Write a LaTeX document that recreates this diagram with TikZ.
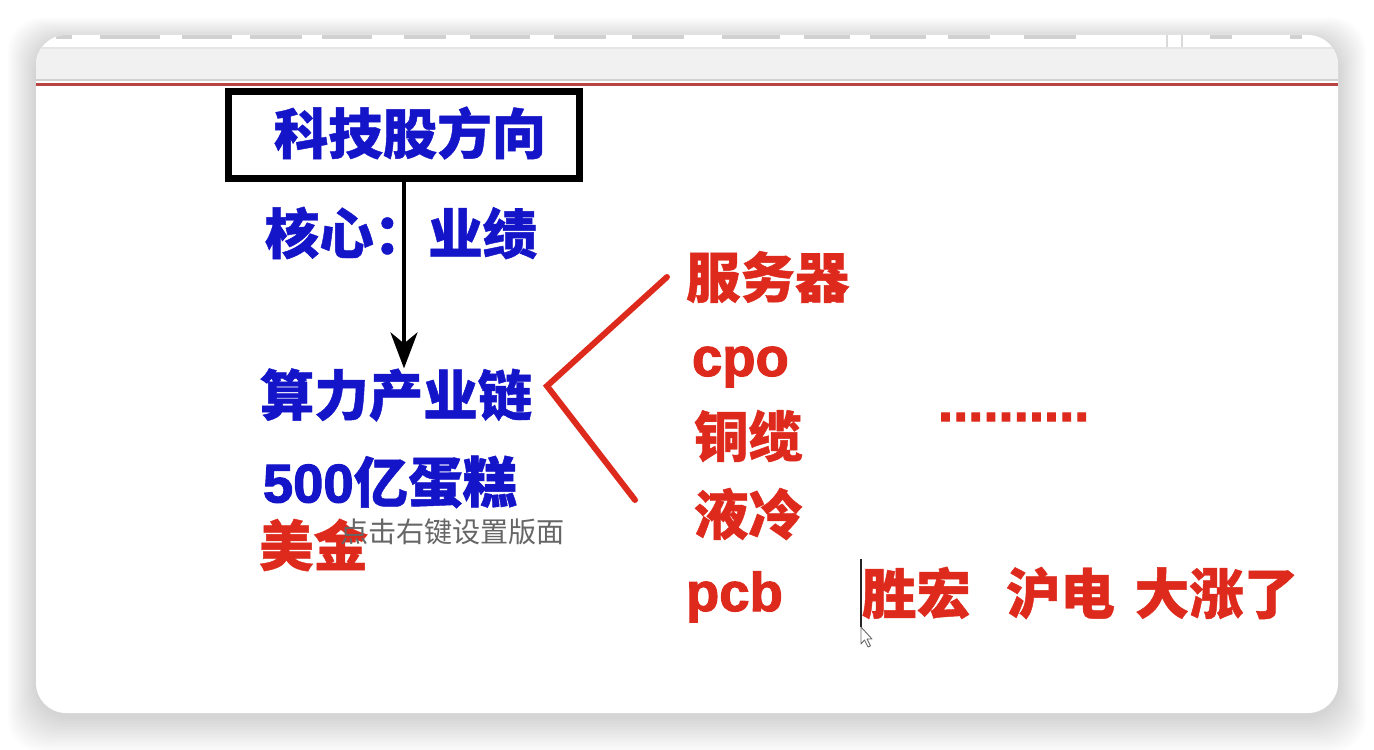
\documentclass[tikz,border=0pt]{standalone}
\usepackage{fontspec}
\setmainfont{Liberation Sans}[BoldFont={Liberation Sans Bold}]
\newfontfamily\latb{Liberation Sans Bold}[FakeBold=2]
\newfontfamily\cjk{Noto Sans CJK SC}[BoldFeatures={FakeBold=0.8}]
\usetikzlibrary{arrows.meta,positioning}
\definecolor{inkblue}{HTML}{1414C8}
\definecolor{hotred}{HTML}{DE2A1C}
\definecolor{hintgray}{HTML}{666666}
\definecolor{bandgray}{HTML}{F1F1F1}
\definecolor{rulered}{HTML}{B84444}
\tikzset{
  every node/.style={inner sep=0pt, outer sep=0pt},
  bigcn/.style={font=\cjk\bfseries\fontsize{31}{31}\selectfont},
  bluetxt/.style={bigcn, text=inkblue},
  redtxt/.style={bigcn, text=hotred},
  redlat/.style={font=\latb\fontsize{31}{31}\selectfont, text=hotred},
  hint/.style={font=\cjk\fontsize{16}{16}\selectfont, text=hintgray},
  titlebox/.style={draw=black, line width=3.9pt, minimum width=7.02cm,
                   minimum height=1.74cm, fill=white},
  downarr/.style={-{Stealth[length=0.72cm, width=0.54cm, inset=0.22cm]},
                  line width=2.5pt, draw=black},
  bracket/.style={draw=hotred, line width=3.4pt, line cap=round, line join=miter},
  blob/.style={draw=black!18, line width=2pt},
  sepline/.style={draw=black!15, line width=0.6pt},
}

\begin{document}
\begin{tikzpicture}[x=0.02cm, y=-0.02cm]
\useasboundingbox (0,0) rectangle (1374,750);

\foreach \g in {1,...,14}
  \fill[black, opacity=0.011, rounded corners=0.7cm]
    (36-2*\g, 40-1.6*\g) rectangle (1338+2*\g, 716+2.6*\g);
\fill[white, rounded corners=0.6cm] (36,35) rectangle (1338,713);

\begin{scope}
\clip[rounded corners=0.6cm] (36,35) rectangle (1338,713);
\foreach \a/\b in {56/72,100/160,182/232,250/302,322/372,404/446,470/530,
                   554/606,632/684,722/780,804/850,870/926,948/990,1024/1076,
                   1210/1232,1290/1302}
  \draw[blob] (\a,37) -- (\b,37);
\draw[sepline] (1167,35) -- (1167,48);
\draw[sepline] (1182,35) -- (1182,48);
\fill[bandgray] (36,48) rectangle (1338,79);
\draw[black!10, line width=0.6pt] (36,48) -- (1338,48);
\draw[black!18, line width=1.2pt] (36,80) -- (1338,80);
\draw[rulered, line width=1.6pt] (36,84.5) -- (1338,84.5);
\end{scope}

\node[titlebox] (title) at (404,135) {};
\node[bluetxt] (titletext) at (410,133) {科技股方向};
\node[bluetxt] (core) at (401,233) {核心：业绩};
\node[bluetxt] (chain) at (396,395) {算力产业链};
\node[bluetxt] (cake) at (390,482) {{\latb 500}亿蛋糕};
\node[redtxt, anchor=west] (usd) at (259,545) {美金};
\node[hint, anchor=west] (tip) at (340,532) {点击右键设置版面};

\node[redtxt, anchor=west] (server) at (686,277) {服务器};
\node[redlat, anchor=base west] (cpo) at (692,376) {cpo};
\node[redtxt, anchor=west] (cable) at (694,436) {铜缆};
\node[redtxt, anchor=west] (cool) at (694,514) {液冷};
\node[redlat, anchor=base west] (pcb) at (686,611) {pcb};
\node[redlat, anchor=base west] (dots) at (938,421) {..........};
\node[redtxt, anchor=west] (rally) at (862,593)
  {胜宏\hspace{0.7cm}沪电\hspace{0.4cm}大涨了};

\coordinate (brtop) at (667,277);
\coordinate (brtip) at (547,386);
\coordinate (brbot) at (635,500);
\coordinate (caret) at (861,559);
\coordinate (ptr) at (861,627);

\draw[downarr] (title.south) -- (title.south |- chain.north);
\draw[bracket] (brtop) -- (brtip) -- (brbot);
\draw[black!85, line width=0.8pt] (caret) -- (ptr);
\draw[black!60, fill=white, line width=0.5pt, line join=round]
  (ptr) -- ++(0,17) -- ++(3.5,-4) -- ++(3.5,7) -- ++(2.5,-1.2)
  -- ++(-3.5,-6.8) -- ++(5,0) -- cycle;

\end{tikzpicture}
\end{document}
